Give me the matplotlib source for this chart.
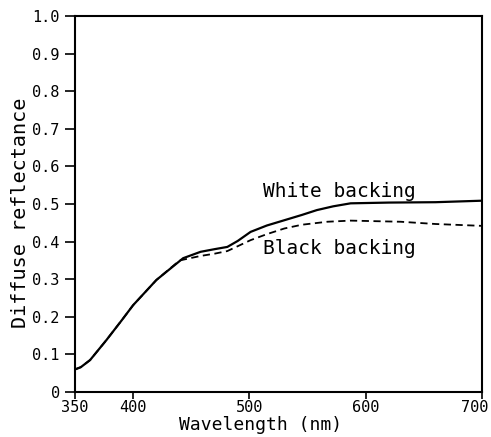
import matplotlib
matplotlib.use("Agg")
import matplotlib.pyplot as plt
from matplotlib.transforms import ScaledTranslation

# wavelength (nm) and diffuse reflectance
wl_white = [350, 355, 363, 377, 390, 400, 420, 443, 458, 470, 481, 490, 501, 515, 530, 545, 558, 572, 587, 620, 660, 700]
r_white = [0.060, 0.066, 0.085, 0.138, 0.190, 0.231, 0.298, 0.356, 0.373, 0.380, 0.386, 0.402, 0.426, 0.443, 0.457, 0.471, 0.484, 0.494, 0.502, 0.504, 0.505, 0.509]

wl_black = [350, 355, 363, 377, 390, 400, 420, 440, 458, 470, 481, 490, 501, 515, 530, 545, 567, 587, 630, 660, 700]
r_black = [0.060, 0.066, 0.085, 0.138, 0.190, 0.231, 0.298, 0.350, 0.362, 0.368, 0.375, 0.388, 0.404, 0.420, 0.435, 0.445, 0.453, 0.456, 0.453, 0.447, 0.442]

xticks = [350, 400, 500, 600, 700]
yticks = [0, 0.1, 0.2, 0.3, 0.4, 0.5, 0.6, 0.7, 0.8, 0.9, 1.0]
ytick_labels = ["0", "0.1", "0.2", "0.3", "0.4", "0.5", "0.6", "0.7", "0.8", "0.9", "1.0"]

plt.rcParams["font.family"] = ["DejaVu Sans Mono"]

fig = plt.figure(figsize=(4.91, 4.37), dpi=100)
ax = fig.add_axes([0.1527, 0.103, 0.829, 0.860])

ax.plot(wl_white, r_white, color="black", lw=1.6)
ax.plot(wl_black, r_black, color="black", lw=1.3, ls=(0, (4, 2.5)))

ax.set_xlim(350, 700)
ax.set_ylim(0, 1.0)
ax.set_xticks(xticks)
ax.set_xticklabels([str(t) for t in xticks], fontsize=11)
ax.set_yticks(yticks)
ax.set_yticklabels(ytick_labels, fontsize=11)
ax.tick_params(axis="x", direction="out", length=5, width=1.2, pad=0.5)
ax.tick_params(axis="y", direction="out", length=7, width=1.2, pad=4)

# last x label sits a bit to the left of its tick in the original
lab700 = ax.get_xticklabels()[-1]
lab700.set_transform(lab700.get_transform() + ScaledTranslation(-5 / 72, 0, fig.dpi_scale_trans))

for s in ax.spines.values():
    s.set_linewidth(1.5)

ax.text(512, 0.519, "White backing", fontsize=14, va="baseline", ha="left")
ax.text(512, 0.367, "Black backing", fontsize=14, va="baseline", ha="left")

ax.set_xlabel("Wavelength (nm)", fontsize=13)
ax.xaxis.set_label_coords(0.455, -0.064)
ax.set_ylabel("Diffuse reflectance", fontsize=14.5)
ax.yaxis.set_label_coords(-0.11, 0.476)

fig.savefig("out.png", dpi=100)
